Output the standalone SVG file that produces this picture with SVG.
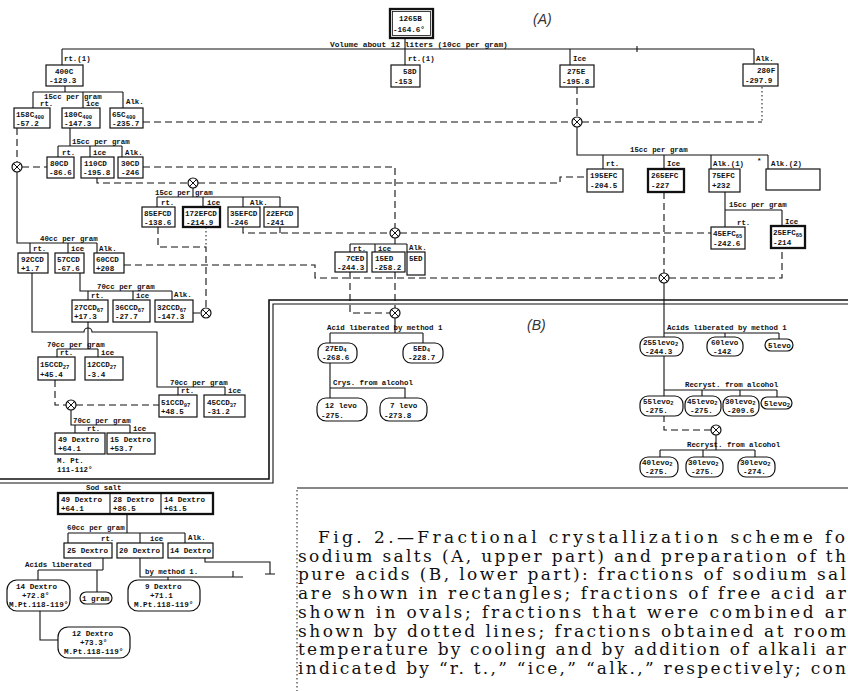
<svg xmlns="http://www.w3.org/2000/svg" width="848" height="691" viewBox="0 0 848 691">
<style>
.t{font-family:"Liberation Mono","DejaVu Sans Mono",monospace;font-size:7.6px;font-weight:bold;fill:#111}
.l{font-family:"Liberation Mono","DejaVu Sans Mono",monospace;font-size:7.4px;font-weight:bold;fill:#111}
.sb{font-size:5.5px}
.b{fill:#fff;stroke:#111;stroke-width:1.2}
.bk{fill:#fff;stroke:#111;stroke-width:2.3}
.c{fill:none;stroke:#111;stroke-width:1.1}
.d{fill:none;stroke:#111;stroke-width:1.1;stroke-dasharray:7 4}
.dt{fill:none;stroke:#111;stroke-width:1;stroke-dasharray:1.5 2.5}
.sep{fill:none;stroke:#111;stroke-width:1.6}
.cap{font-family:"DejaVu Serif","Liberation Serif",serif;font-size:17px;fill:#111}
.ab{font-family:"Liberation Sans",Arial,sans-serif;font-size:14px;font-style:italic;fill:#333}
</style>
<defs>
<g id="x"><circle r="5" fill="#fff" stroke="#111" stroke-width="1.2"/><path d="M-3.5,-3.5L3.5,3.5M3.5,-3.5L-3.5,3.5" stroke="#111" stroke-width="1"/></g>
</defs>
<rect width="848" height="691" fill="#fff"/>

<g id="separators">
<path class="sep" d="M0,479H269V300H848"/>
<path class="c" d="M0,483H273V304H848"/>
<path class="c" d="M297,488H848"/>
<path class="dt" d="M297,490V691"/>
</g>

<g id="connectors">
<path class="c" d="M62,49H754M405,38V65M62,49V65M570,49V65M754,49V64M637,46V52"/>
<path class="c" d="M65,86V92M33,92H123M33,92V108M83,92V108M123,92V108"/>
<path class="c" d="M70,128V146M58,146H122M58,146V157M90,146V157M122,146V157"/>
<path class="c" d="M17,172V243H97M30,243V253M68,243V253M97,243V253"/>
<path class="c" d="M193,188V197M157,197H280M157,197V207M203,197V207M243,197V207M280,197V207"/>
<path class="c" d="M577,127V155H768M603,155V169M664,155V169M711,155V169M768,155V169"/>
<path class="c" d="M725,192V210H782M725,210V227M782,210V226"/>
<path class="c" d="M395,238V244M350,244H407M350,244V252M375,244V252M407,244V252"/>
<path class="c" d="M80,273V291H172M88,291V300M133,291V300M172,291V300"/>
<path class="c" d="M32,273V332H84A4,4 0 0 1 92,332H157V387H225M178,387V395M225,387V395"/>
<path class="c" d="M88,322V349M57,349H98M57,349V357M98,349V357"/>
<path class="c" d="M71,410V425H130M75,425V433M130,425V433"/>
<path class="c" d="M395,318V333M330,333H423M330,333V343M423,333V343M330,363V398M330,388H405V398"/>
<path class="c" d="M664,283V337M664,333H779M725,333V337M779,333V339M664,356V396M664,390H777M702,390V396M740,390V396M777,390V397"/>
<path class="c" d="M716,435V450M660,450H755M660,450V457M703,450V457M755,450V457"/>
<path class="c" d="M127,514V533M68,533H185M68,533V543M140,533V543M185,533V543"/>
<path class="c" d="M205,558V562H270V574M265,574H275"/>
<path class="c" d="M103,558V570M38,570H103M38,570V580M97,570V592"/>
<path class="c" d="M140,558V577H243M233,571V577M168,577V580M40,611V640H58"/>
<path class="d" d="M143,122H572M582,122H762M577,87V117"/>
<path class="dt" d="M762,87V122"/>
<path class="d" d="M17,128V162M22,167H47M143,167H395V228"/>
<path class="d" d="M97,178V183H188M198,183H560V177H587"/>
<path class="d" d="M243,227V233H390M280,227V233M400,233H711"/>
<path class="d" d="M158,227V247H206V308"/>
<path class="dt" d="M206,227V247"/>
<path class="d" d="M124,265H315V278H659M193,313H201"/>
<path class="d" d="M664,192V273M669,278H782V248"/>
<path class="d" d="M350,272V313H390M395,272V308"/>
<path class="d" d="M55,380V405H66M76,405H159"/>
<path class="d" d="M664,415V430H711"/>
<use href="#x" x="577" y="122"/>
<use href="#x" x="17" y="167"/>
<use href="#x" x="193" y="183"/>
<use href="#x" x="395" y="233"/>
<use href="#x" x="206" y="313"/>
<use href="#x" x="664" y="278"/>
<use href="#x" x="395" y="313"/>
<use href="#x" x="71" y="405"/>
<use href="#x" x="716" y="430"/>
</g>

<g id="labels">
<text class="ab" x="533" y="24">(A)</text>
<text class="ab" x="527" y="330">(B)</text>
<text class="l" x="330" y="47" style="font-size:7.8px">Volume about 12 liters (10cc per gram)</text>
<text class="l" x="64" y="61">rt.(1)</text>
<text class="l" x="408" y="61">rt.(1)</text>
<text class="l" x="573" y="61">Ice</text>
<text class="l" x="756" y="61">Alk.</text>
<text class="l" x="44" y="99">15cc per gram</text>
<text class="l" x="40" y="106">rt.</text>
<text class="l" x="86" y="106">ice</text>
<text class="l" x="126" y="104">Alk.</text>
<text class="l" x="72" y="144">15cc per gram</text>
<text class="l" x="62" y="155">rt.</text>
<text class="l" x="93" y="155">ice</text>
<text class="l" x="125" y="155">Alk.</text>
<text class="l" x="155" y="195">15cc per gram</text>
<text class="l" x="161" y="205">rt.</text>
<text class="l" x="207" y="205">ice</text>
<text class="l" x="250" y="205">Alk.</text>
<text class="l" x="40" y="241">40cc per gram</text>
<text class="l" x="33" y="251">rt.</text>
<text class="l" x="71" y="251">ice</text>
<text class="l" x="99" y="251">Alk.</text>
<text class="l" x="97" y="289">70cc per gram</text>
<text class="l" x="91" y="298">rt.</text>
<text class="l" x="136" y="298">ice</text>
<text class="l" x="174" y="297">Alk.</text>
<text class="l" x="47" y="347">70cc per gram</text>
<text class="l" x="60" y="355">rt.</text>
<text class="l" x="101" y="355">ice</text>
<text class="l" x="170" y="385">70cc per gram</text>
<text class="l" x="181" y="393">rt.</text>
<text class="l" x="228" y="393">ice</text>
<text class="l" x="73" y="423">70cc per gram</text>
<text class="l" x="87" y="431">rt.</text>
<text class="l" x="133" y="431">ice</text>
<text class="l" x="57" y="463">M. Pt.</text>
<text class="l" x="57" y="472">111-112°</text>
<text class="l" x="353" y="251">rt.</text>
<text class="l" x="378" y="251">ice</text>
<text class="l" x="409" y="250">Alk.</text>
<text class="l" x="630" y="152">15cc per gram</text>
<text class="l" x="606" y="166">rt.</text>
<text class="l" x="667" y="166">Ice</text>
<text class="l" x="713" y="166">Alk.(1)</text>
<text class="l" x="757" y="163">*</text>
<text class="l" x="771" y="166">Alk.(2)</text>
<text class="l" x="729" y="207">15cc per gram</text>
<text class="l" x="737" y="225">rt.</text>
<text class="l" x="785" y="224">Ice</text>
<text class="l" x="327" y="330">Acid liberated by method 1</text>
<text class="l" x="333" y="385">Crys. from alcohol</text>
<text class="l" x="667" y="330">Acids liberated by method 1</text>
<text class="l" x="685" y="387">Recryst. from alcohol</text>
<text class="l" x="687" y="447">Recryst. from alcohol</text>
<text class="l" x="86" y="490">Sod salt</text>
<text class="l" x="67" y="530">60cc per gram</text>
<text class="l" x="101" y="541">rt.</text>
<text class="l" x="150" y="541">ice</text>
<text class="l" x="188" y="540">Alk.</text>
<text class="l" x="25" y="567">Acids liberated</text>
<text class="l" x="145" y="574">by method 1.</text>
</g>

<g id="n1265B"><rect class="bk" x="390" y="9" width="43" height="29"/><rect x="392.5" y="11.5" width="38" height="24" fill="none" stroke="#111" stroke-width="0.8"/><text class="t" x="399" y="21">1265B</text><text class="t" x="393" y="32">-164.6°</text></g>
<g id="n400C"><rect class="b" x="46" y="65" width="37" height="21"/><text class="t" x="55" y="74">400C</text><text class="t" x="49" y="83">-129.3</text></g>
<g id="n58D"><rect class="b" x="391" y="65" width="29" height="22"/><text class="t" x="403" y="74">58D</text><text class="t" x="394" y="84">-153</text></g>
<g id="n275E"><rect class="b" x="560" y="65" width="34" height="22"/><text class="t" x="567" y="74">275E</text><text class="t" x="562" y="84">-195.8</text></g>
<g id="n280F"><rect class="b" x="743" y="64" width="35" height="22"/><text class="t" x="757" y="73">280F</text><text class="t" x="745" y="83">-297.9</text></g>
<g id="n158C"><rect class="b" x="14" y="108" width="36" height="20"/><text class="t" x="16" y="117">158C<tspan class="sb" dy="1.5">400</tspan></text><text class="t" x="16" y="126">-57.2</text></g>
<g id="n180C"><rect class="b" x="62" y="108" width="38" height="20"/><text class="t" x="64" y="117">180C<tspan class="sb" dy="1.5">400</tspan></text><text class="t" x="64" y="126">-147.3</text></g>
<g id="n65C"><rect class="b" x="110" y="108" width="33" height="20"/><text class="t" x="112" y="117">65C<tspan class="sb" dy="1.5">400</tspan></text><text class="t" x="112" y="126">-235.7</text></g>
<g id="n80CD"><rect class="b" x="47" y="157" width="27" height="21"/><text class="t" x="50" y="166">80CD</text><text class="t" x="49" y="175">-86.6</text></g>
<g id="n110CD"><rect class="b" x="81" y="157" width="33" height="21"/><text class="t" x="84" y="166">110CD</text><text class="t" x="83" y="175">-195.8</text></g>
<g id="n30CD"><rect class="b" x="118" y="157" width="25" height="21"/><text class="t" x="121" y="166">30CD</text><text class="t" x="121" y="175">-246</text></g>
<g id="n85EFCD"><rect class="b" x="142" y="207" width="33" height="20"/><text class="t" x="144" y="216">85EFCD</text><text class="t" x="144" y="225">-138.6</text></g>
<g id="n172EFCD"><rect class="bk" x="183" y="207" width="37" height="20"/><text class="t" x="185" y="216">172EFCD</text><text class="t" x="186" y="225">-214.9</text></g>
<g id="n35EFCD"><rect class="b" x="228" y="207" width="32" height="20"/><text class="t" x="230" y="216">35EFCD</text><text class="t" x="230" y="225">-246</text></g>
<g id="n22EFCD"><rect class="b" x="264" y="207" width="34" height="20"/><text class="t" x="266" y="216">22EFCD</text><text class="t" x="266" y="225">-241</text></g>
<g id="n92CCD"><rect class="b" x="18" y="253" width="30" height="20"/><text class="t" x="21" y="262">92CCD</text><text class="t" x="21" y="271">+1.7</text></g>
<g id="n57CCD"><rect class="b" x="55" y="253" width="29" height="20"/><text class="t" x="57" y="262">57CCD</text><text class="t" x="57" y="271">-67.6</text></g>
<g id="n60CCD"><rect class="b" x="94" y="253" width="30" height="20"/><text class="t" x="96" y="262">60CCD</text><text class="t" x="96" y="271">+208</text></g>
<g id="n27CCD"><rect class="b" x="72" y="300" width="36" height="22"/><text class="t" x="74" y="310">27CCD<tspan class="sb" dy="1.5">67</tspan></text><text class="t" x="74" y="319">+17.3</text></g>
<g id="n36CCD"><rect class="b" x="113" y="300" width="37" height="22"/><text class="t" x="115" y="310">36CCD<tspan class="sb" dy="1.5">67</tspan></text><text class="t" x="115" y="319">-27.7</text></g>
<g id="n32CCD"><rect class="b" x="155" y="300" width="38" height="22"/><text class="t" x="157" y="310">32CCD<tspan class="sb" dy="1.5">67</tspan></text><text class="t" x="157" y="319">-147.3</text></g>
<g id="n15CCD"><rect class="b" x="38" y="357" width="37" height="23"/><text class="t" x="40" y="367">15CCD<tspan class="sb" dy="1.5">27</tspan></text><text class="t" x="40" y="377">+45.4</text></g>
<g id="n12CCD"><rect class="b" x="85" y="357" width="38" height="23"/><text class="t" x="87" y="367">12CCD<tspan class="sb" dy="1.5">27</tspan></text><text class="t" x="87" y="377">-3.4</text></g>
<g id="n51CCD"><rect class="b" x="159" y="395" width="38" height="22"/><text class="t" x="161" y="405">51CCD<tspan class="sb" dy="1.5">97</tspan></text><text class="t" x="161" y="414">+48.5</text></g>
<g id="n45CCD"><rect class="b" x="204" y="395" width="41" height="22"/><text class="t" x="207" y="405">45CCD<tspan class="sb" dy="1.5">37</tspan></text><text class="t" x="207" y="414">-31.2</text></g>
<g id="n49Dextro"><rect class="b" x="55" y="433" width="50" height="21"/><text class="t" x="58" y="442">49 Dextro</text><text class="t" x="58" y="451">+64.1</text></g>
<g id="n15Dextro"><rect class="b" x="107" y="433" width="48" height="21"/><text class="t" x="110" y="442">15 Dextro</text><text class="t" x="110" y="451">+53.7</text></g>
<g id="n7CED"><rect class="b" x="335" y="252" width="32" height="20"/><text class="t" x="346" y="261">7CED</text><text class="t" x="337" y="270">-244.3</text></g>
<g id="n15ED"><rect class="b" x="372" y="252" width="33" height="20"/><text class="t" x="375" y="261">15ED</text><text class="t" x="374" y="270">-258.2</text></g>
<g id="n5ED"><rect class="b" x="407" y="252" width="18" height="23"/><text class="t" x="409" y="261">5ED</text></g>
<g id="n195EFC"><rect class="b" x="587" y="169" width="36" height="23"/><text class="t" x="590" y="178">195EFC</text><text class="t" x="590" y="188">-204.5</text></g>
<g id="n265EFC"><rect class="bk" x="648" y="169" width="36" height="23"/><text class="t" x="651" y="178">265EFC</text><text class="t" x="651" y="188">-227</text></g>
<g id="n75EFC"><rect class="b" x="709" y="169" width="31" height="23"/><text class="t" x="712" y="178">75EFC</text><text class="t" x="712" y="188">+232</text></g>
<g id="nAlk2"><rect class="b" x="766" y="169" width="54" height="21"/></g>
<g id="n45EFC"><rect class="b" x="711" y="227" width="34" height="22"/><text class="t" x="713" y="236">45EFC<tspan class="sb" dy="1.5">65</tspan></text><text class="t" x="713" y="246">-242.6</text></g>
<g id="n25EFC"><rect class="bk" x="771" y="226" width="34" height="22"/><text class="t" x="773" y="235">25EFC<tspan class="sb" dy="1.5">65</tspan></text><text class="t" x="773" y="245">-214</text></g>
<g id="o27ED"><rect class="b" x="318" y="343" width="39" height="20" rx="8"/><text class="t" x="325" y="351">27ED<tspan class="sb" dy="1">4</tspan></text><text class="t" x="322" y="360">-268.6</text></g>
<g id="o5ED"><rect class="b" x="403" y="343" width="40" height="20" rx="8"/><text class="t" x="413" y="351">5ED<tspan class="sb" dy="1">4</tspan></text><text class="t" x="408" y="360">-228.7</text></g>
<g id="o12levo"><rect class="b" x="317" y="398" width="50" height="23" rx="9"/><text class="t" x="325" y="408">12 levo</text><text class="t" x="321" y="418">-275.</text></g>
<g id="o7levo"><rect class="b" x="380" y="398" width="47" height="23" rx="9"/><text class="t" x="390" y="408">7 levo</text><text class="t" x="384" y="418">-273.8</text></g>
<g id="o255levo"><rect class="b" x="640" y="337" width="43" height="19" rx="8"/><text class="t" x="643" y="345">255levo<tspan class="sb" dy="1">2</tspan></text><text class="t" x="645" y="354">-244.3</text></g>
<g id="o60levo"><rect class="b" x="707" y="337" width="36" height="19" rx="8"/><text class="t" x="711" y="345">60levo</text><text class="t" x="713" y="354">-142</text></g>
<g id="o5levo"><rect class="b" x="765" y="339" width="28" height="12" rx="6"/><text class="t" x="768" y="348">5levo</text></g>
<g id="o55levo"><rect class="b" x="640" y="396" width="43" height="20" rx="8"/><text class="t" x="643" y="404">55levo<tspan class="sb" dy="1">2</tspan></text><text class="t" x="645" y="413">-275.</text></g>
<g id="o45levo"><rect class="b" x="685" y="396" width="36" height="20" rx="8"/><text class="t" x="687" y="404">45levo<tspan class="sb" dy="1">2</tspan></text><text class="t" x="690" y="413">-275.</text></g>
<g id="o30levo"><rect class="b" x="723" y="396" width="36" height="20" rx="8"/><text class="t" x="725" y="404">30levo<tspan class="sb" dy="1">2</tspan></text><text class="t" x="727" y="413">-209.6</text></g>
<g id="o5levo2"><rect class="b" x="761" y="397" width="31" height="12" rx="6"/><text class="t" x="764" y="406">5levo<tspan class="sb" dy="1">2</tspan></text></g>
<g id="o40levo"><rect class="b" x="640" y="457" width="38" height="20" rx="8"/><text class="t" x="642" y="465">40levo<tspan class="sb" dy="1">2</tspan></text><text class="t" x="645" y="474">-275.</text></g>
<g id="o30levoA"><rect class="b" x="686" y="457" width="37" height="20" rx="8"/><text class="t" x="688" y="465">30levo<tspan class="sb" dy="1">2</tspan></text><text class="t" x="691" y="474">-275.</text></g>
<g id="o30levoB"><rect class="b" x="738" y="457" width="37" height="20" rx="8"/><text class="t" x="740" y="465">30levo<tspan class="sb" dy="1">2</tspan></text><text class="t" x="743" y="474">-274.</text></g>
<g id="nSodSalt"><rect class="bk" x="58" y="493" width="155" height="21"/><path class="c" d="M110,493V514M161,493V514"/><text class="t" x="61" y="502">49 Dextro</text><text class="t" x="61" y="511">+64.1</text><text class="t" x="113" y="502">28 Dextro</text><text class="t" x="113" y="511">+86.5</text><text class="t" x="164" y="502">14 Dextro</text><text class="t" x="164" y="511">+61.5</text></g>
<g id="n25Dextro"><rect class="b" x="64" y="543" width="48" height="15"/><text class="t" x="67" y="553">25 Dextro</text></g>
<g id="n20Dextro"><rect class="b" x="117" y="543" width="46" height="15"/><text class="t" x="119" y="553">20 Dextro</text></g>
<g id="n14Dextro"><rect class="b" x="168" y="543" width="45" height="15"/><text class="t" x="170" y="553">14 Dextro</text></g>
<g id="o14Dextro"><rect class="b" x="7" y="580" width="63" height="31" rx="10"/><text class="t" x="16" y="589">14 Dextro</text><text class="t" x="22" y="598">+72.8°</text><text class="t" x="9" y="607">M.Pt.118-119°</text></g>
<g id="o1gram"><rect class="b" x="80" y="592" width="32" height="12" rx="6"/><text class="t" x="82" y="601">1 gram</text></g>
<g id="o9Dextro"><rect class="b" x="128" y="580" width="72" height="31" rx="10"/><text class="t" x="145" y="589">9 Dextro</text><text class="t" x="150" y="598">+71.1</text><text class="t" x="134" y="607">M.Pt.118-119°</text></g>
<g id="o12Dextro"><rect class="b" x="58" y="627" width="72" height="31" rx="10"/><text class="t" x="72" y="636">12 Dextro</text><text class="t" x="80" y="645">+73.3°</text><text class="t" x="64" y="654">M.Pt.118-119°</text></g>

<g id="caption">
<text class="cap" x="318" y="543" textLength="527" lengthAdjust="spacing">Fig. 2.—Fractional crystallization scheme fo</text>
<text class="cap" x="298" y="561.7" textLength="548" lengthAdjust="spacing">sodium salts (A, upper part) and preparation of th</text>
<text class="cap" x="298" y="580.4" textLength="548" lengthAdjust="spacing">pure acids (B, lower part):  fractions of sodium sal</text>
<text class="cap" x="298" y="599.1" textLength="548" lengthAdjust="spacing">are shown in rectangles; fractions of free acid ar</text>
<text class="cap" x="298" y="617.8" textLength="548" lengthAdjust="spacing">shown in ovals; fractions that were combined ar</text>
<text class="cap" x="298" y="636.5" textLength="548" lengthAdjust="spacing">shown by dotted lines; fractions obtained at room</text>
<text class="cap" x="298" y="655.2" textLength="548" lengthAdjust="spacing">temperature by cooling and by addition of alkali ar</text>
<text class="cap" x="298" y="673.9" textLength="548" lengthAdjust="spacing">indicated by “r. t.,” “ice,” “alk.,” respectively; con</text>
</g>
</svg>
